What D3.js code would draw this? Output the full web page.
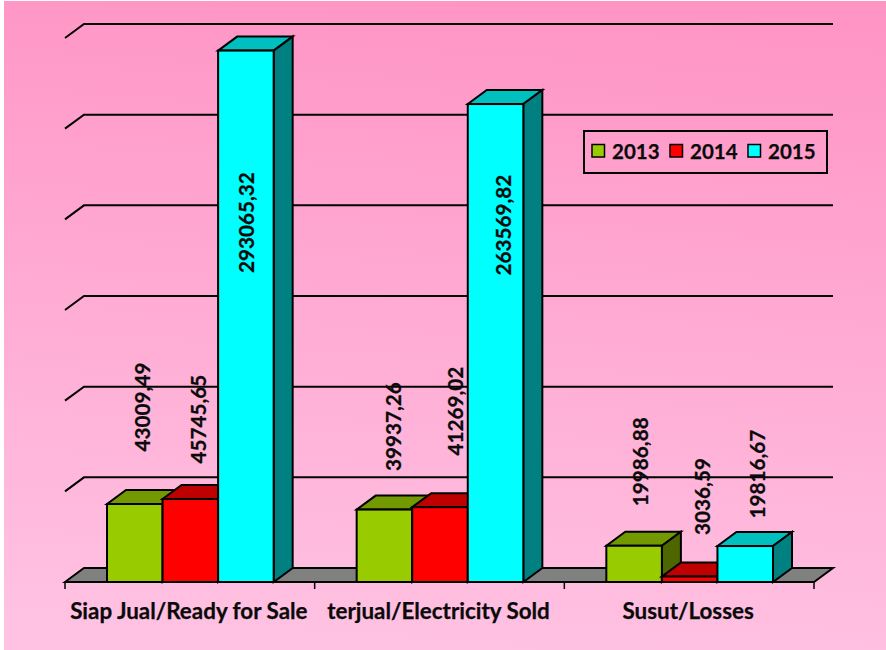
<!DOCTYPE html>
<html><head><meta charset="utf-8">
<style>html,body{margin:0;padding:0;background:#fff}svg{display:block}text{font-family:Lato,Carlito,sans-serif;font-weight:700;fill:#0a0a0a;stroke:#0a0a0a;stroke-width:.25px}</style>
<script src="https://cdn.jsdelivr.net/npm/d3@7/dist/d3.min.js"></script>
</head><body><svg id="c" width="886" height="650"></svg>
<script>
const categories = ["Siap Jual/Ready for Sale","terjual/Electricity Sold","Susut/Losses"];
const years = ["2013","2014","2015"];
const values2013 = [43009.49,39937.26,19986.88];
const values2014 = [45745.65,41269.02,3036.59];
const values2015 = [293065.32,263569.82,19816.67];
const labels2013 = ["43009,49","39937,26","19986,88"];
const labels2014 = ["45745,65","41269,02","3036,59"];
const labels2015 = ["293065,32","263569,82","19816,67"];
const yTicks = [0,50000,100000,150000,200000,250000,300000];
// hand-placed label centres in the reference, relative to each bar top centre
const lift2013 = [97,83,84];
const lift2014 = [80,96,80];
const lift2015 = [-172,-121,72];
const shift2013 = [8,9,7];
const shift2014 = [8,16,13];
const shift2015 = [1,8,13];

const colors = ["#99cc00","#ff0000","#00ffff"];
const tops = ["#739900","#bf0000","#00bfbf"];
const sides = ["#4d6600","#800000","#008080"];
const series = [values2013,values2014,values2015];
const labels = [labels2013,labels2014,labels2015];
const lifts = [lift2013,lift2014,lift2015];
const shifts = [shift2013,shift2014,shift2015];

const dx = 19, dy = -14;
const svg = d3.select("#c");
const defs = svg.append("defs");
const g = defs.append("linearGradient").attr("id","bg").attr("x1",0.55).attr("y1",0).attr("x2",0.45).attr("y2",1);
g.append("stop").attr("offset",0).attr("stop-color","#ff95c5");
g.append("stop").attr("offset",1).attr("stop-color","#ffc2e2");
svg.append("rect").attr("x",4).attr("y",1).attr("width",882).attr("height",649).attr("fill","url(#bg)");

const x = d3.scaleBand().domain(categories).range([65,814]);
const y = d3.scaleLinear().domain([0,300000]).range([582,38]);
const inner = d3.scaleBand().domain(years).range([42,x.bandwidth()-41]);

const K = "#000", SW = 2;
svg.append("path").attr("d",`M${x.range()[0]},${y(0)}L${x.range()[0]+dx},${y(0)+dy}H${x.range()[1]+dx}L${x.range()[1]},${y(0)}Z`)
  .attr("fill","#808080").attr("stroke",K).attr("stroke-width",SW);
yTicks.slice(1).forEach(t=>{
  const yy = y(t);
  svg.append("path").attr("d",`M${x.range()[0]},${yy}L${x.range()[0]+dx},${yy+dy}H${x.range()[1]+dx}`)
    .attr("fill","none").attr("stroke",K).attr("stroke-width",SW);
});
const ax = svg.append("g");
ax.append("line").attr("x1",x.range()[0]).attr("x2",x.range()[1]).attr("y1",y(0)).attr("y2",y(0)).attr("stroke",K).attr("stroke-width",SW);
[...categories.map(c=>x(c)),x.range()[1]].forEach(px=>{
  ax.append("line").attr("x1",px).attr("x2",px).attr("y1",y(0)).attr("y2",y(0)+7).attr("stroke",K).attr("stroke-width",1.5);
});
categories.forEach(c=>{
  svg.append("text").attr("x",x(c)+x.bandwidth()/2-1).attr("y",619).attr("text-anchor","middle").attr("font-size",22.4).text(c);
});
categories.forEach((c,ci)=>{
  years.forEach((yr,si)=>{
    const x0 = x(c)+inner(yr), w = inner.bandwidth(), yt = y(series[si][ci]), yb = y(0);
    const bar = svg.append("g").attr("stroke",K).attr("stroke-width",SW).attr("stroke-linejoin","miter");
    bar.append("path").attr("d",`M${x0},${yt}L${x0+dx},${yt+dy}H${x0+w+dx}L${x0+w},${yt}Z`).attr("fill",tops[si]);
    bar.append("path").attr("d",`M${x0+w},${yt}L${x0+w+dx},${yt+dy}V${yb+dy}L${x0+w},${yb}Z`).attr("fill",sides[si]);
    bar.append("rect").attr("x",x0).attr("y",yt).attr("width",w).attr("height",yb-yt).attr("fill",colors[si]);
  });
});
categories.forEach((c,ci)=>{
  years.forEach((yr,si)=>{
    const cx = x(c)+inner(yr)+inner.bandwidth()/2+shifts[si][ci];
    const cy = y(series[si][ci]) - lifts[si][ci];
    svg.append("text").attr("transform",`translate(${cx},${cy}) rotate(-90)`).attr("text-anchor","middle").attr("dy","0.35em").attr("font-size",20.7).text(labels[si][ci]);
  });
});
const lg = svg.append("g");
lg.append("rect").attr("x",584).attr("y",131).attr("width",243).attr("height",42).attr("fill","none").attr("stroke",K).attr("stroke-width",2);
const lgX = d3.scalePoint().domain(years).range([592,748]);
years.forEach((yr,i)=>{
  lg.append("rect").attr("x",lgX(yr)).attr("y",144.5).attr("width",12.5).attr("height",12.5).attr("fill",colors[i]).attr("stroke",K).attr("stroke-width",1.5);
  lg.append("text").attr("x",lgX(yr)+20).attr("y",159).attr("font-size",20.5).text(yr);
});
</script></body></html>
